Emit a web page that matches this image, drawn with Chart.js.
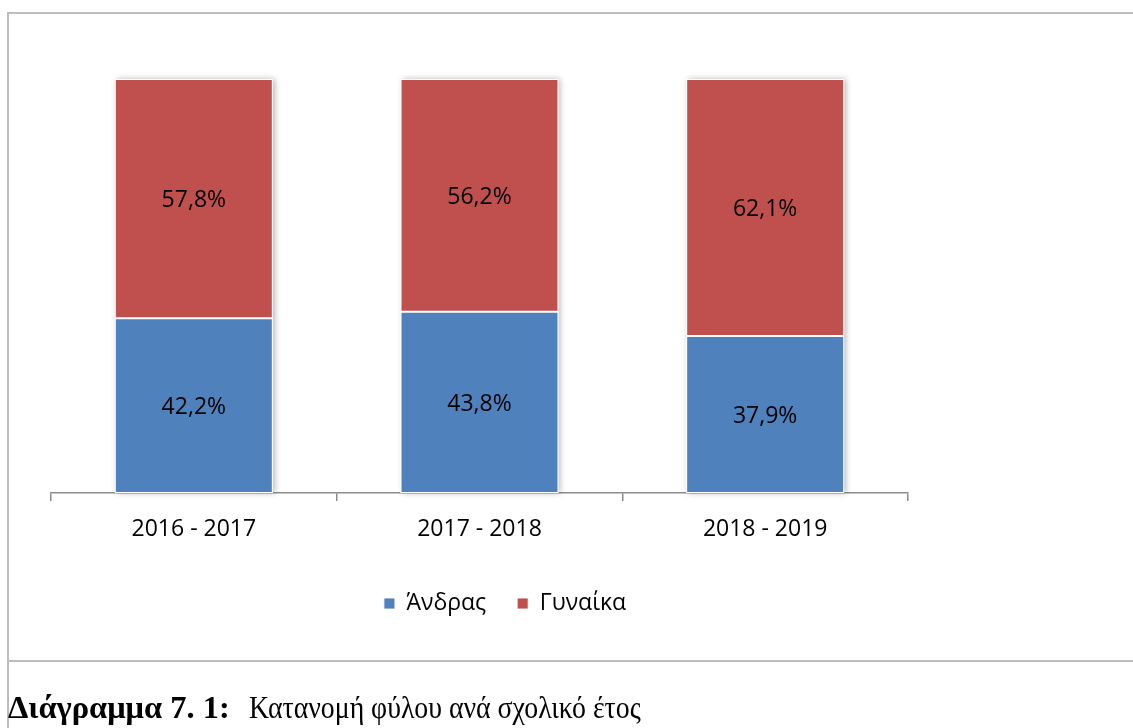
<!DOCTYPE html>
<html>
<head>
<meta charset="utf-8">
<script src="https://cdn.jsdelivr.net/npm/chart.js@4/dist/chart.umd.min.js"></script>
<style>
  html, body { margin: 0; padding: 0; background: #fff; }
  body { width: 1133px; height: 728px; position: relative; overflow: hidden; }
  #frameTop { position: absolute; left: 7px; top: 12px; width: 1126px; height: 2px; background: #bdbdbd; }
  #frameLeft { position: absolute; left: 7px; top: 12px; width: 2px; height: 716px; background: #bdbdbd; }
  #frameMid { position: absolute; left: 7px; top: 660px; width: 1126px; height: 2px; background: #bdbdbd; }
  #wrap { position: absolute; left: 0; top: 0; width: 1133px; height: 660px; }
  .cap { position: absolute; top: 692px; font-family: "Liberation Serif", "Times New Roman", serif; font-size: 31px; color: #000; white-space: pre; line-height: 1; transform-origin: 0 0; }
  #capB { left: 8px; font-weight: bold; transform: scaleX(1.047); }
  #capN { left: 249px; transform: scaleX(0.896); }
</style>
</head>
<body>
<div id="wrap"><canvas id="c" width="1133" height="660"></canvas></div>
<div id="frameTop"></div>
<div id="frameLeft"></div>
<div id="frameMid"></div>
<div class="cap" id="capB">Διάγραμμα 7. 1:</div>
<div class="cap" id="capN">Κατανομή φύλου ανά σχολικό έτος</div>
<script>
const categories = ['2016 - 2017', '2017 - 2018', '2018 - 2019'];
const seriesNames = ['Άνδρας', 'Γυναίκα'];
const andras = [42.2, 43.8, 37.9];
const gynaika = [57.8, 56.2, 62.1];
const seriesColors = ['#4f81bd', '#c0504d'];

const FONT = '"Open Sans", "Noto Sans", sans-serif';
const FSIZE = 23;

const shadowPlugin = {
  id: 'columnShadow',
  beforeDatasetsDraw(chart) {
    const ctx = chart.ctx;
    const m0 = chart.getDatasetMeta(0);
    const m1 = chart.getDatasetMeta(chart.data.datasets.length - 1);
    ctx.save();
    ctx.shadowColor = 'rgba(0,0,0,0.28)';
    ctx.shadowBlur = 6;
    ctx.shadowOffsetX = 2;
    ctx.shadowOffsetY = 0;
    ctx.fillStyle = '#ffffff';
    m0.data.forEach((el, i) => {
      const top = m1.data[i];
      const p0 = el.getProps(['x', 'base', 'width'], true);
      const p1 = top.getProps(['y'], true);
      ctx.fillRect(p0.x - p0.width / 2, p1.y, p0.width, p0.base - p1.y);
    });
    ctx.restore();
  }
};

const labelPlugin = {
  id: 'segLabels',
  afterDatasetsDraw(chart) {
    const ctx = chart.ctx;
    ctx.save();
    ctx.font = FSIZE + 'px ' + FONT;
    ctx.fillStyle = '#000';
    ctx.textAlign = 'center';
    ctx.textBaseline = 'middle';
    chart.data.datasets.forEach((ds, di) => {
      const meta = chart.getDatasetMeta(di);
      meta.data.forEach((el, i) => {
        const p = el.getProps(['x', 'y', 'base'], true);
        const txt = ds.data[i].toFixed(1).replace('.', ',') + '%';
        ctx.fillText(txt, p.x, (p.y + p.base) / 2 + 2);
      });
    });
    ctx.restore();
  }
};

new Chart(document.getElementById('c'), {
  type: 'bar',
  data: {
    labels: categories,
    datasets: [
      { label: seriesNames[0], data: andras, backgroundColor: seriesColors[0], borderColor: 'rgba(255,255,255,0.85)', borderWidth: 1, borderSkipped: false },
      { label: seriesNames[1], data: gynaika, backgroundColor: seriesColors[1], borderColor: 'rgba(255,255,255,0.85)', borderWidth: 1, borderSkipped: false }
    ]
  },
  plugins: [shadowPlugin, labelPlugin],
  options: {
    responsive: false,
    animation: false,
    events: [],
    layout: { padding: { left: 0, right: 123, top: 79, bottom: 35 } },
    datasets: { bar: { categoryPercentage: 1, barPercentage: 0.553 } },
    scales: {
      x: {
        stacked: true,
        grid: { offset: true, drawOnChartArea: false, drawTicks: true, tickLength: 8, color: '#8c8c8c', lineWidth: 1.5 },
        border: { display: true, color: '#8c8c8c', width: 1.5 },
        ticks: { color: '#000', font: { family: FONT, size: FSIZE }, padding: 15 },
        afterFit(s) { s.height = 68; }
      },
      y: {
        stacked: true, min: 0, max: 100, position: 'left',
        grid: { display: false }, border: { display: false },
        ticks: { display: false },
        afterFit(s) { s.width = 51; }
      },
      y2: {
        position: 'right', min: 0, max: 100,
        grid: { display: false }, border: { display: false },
        ticks: { display: false },
        afterFit(s) { s.width = 102; }
      }
    },
    plugins: {
      legend: {
        position: 'bottom',
        labels: { boxWidth: 11, boxHeight: 11, padding: 31, color: '#000', font: { family: FONT, size: FSIZE } }
      },
      tooltip: { enabled: false }
    }
  }
});
</script>
</body>
</html>
